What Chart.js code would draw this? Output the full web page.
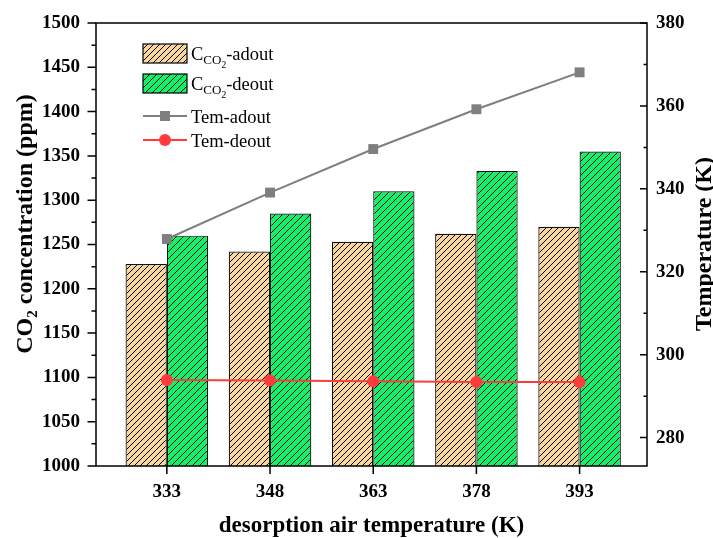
<!DOCTYPE html>
<html>
<head>
<meta charset="utf-8">
<script src="https://cdn.jsdelivr.net/npm/chart.js@4.4.1/dist/chart.umd.min.js"></script>
<style>
  html, body { margin: 0; padding: 0; background: #fff; }
  #wrap { width: 713px; height: 538px; position: relative; }
</style>
</head>
<body>
<div id="wrap"><canvas id="main-chart"></canvas></div>
<script>
// --- DATA ---
const temps = [333, 348, 363, 378, 393];
const co2Adout = [1228, 1242, 1253, 1262, 1270];
const co2Deout = [1260, 1285, 1310, 1333, 1355];
const temAdout = [327.9, 339.1, 349.6, 359.2, 368.1];
const temDeout = [293.9, 293.8, 293.6, 293.4, 293.4];
const leftTicks = [1000, 1050, 1100, 1150, 1200, 1250, 1300, 1350, 1400, 1450, 1500];
const rightTicks = [280, 300, 320, 340, 360, 380];

const SERIF = '"Liberation Serif", "Times New Roman", serif';
const orangeFill = '#F8D69C';
const greenFill = '#14F068';
const RIGHT_MIN = 273.15;

function hatch(color, n) {
  const c = document.createElement('canvas');
  c.width = n; c.height = n;
  const g = c.getContext('2d');
  g.fillStyle = color;
  g.fillRect(0, 0, n, n);
  g.strokeStyle = '#000';
  g.lineWidth = 1;
  g.beginPath();
  g.moveTo(-1, n + 1); g.lineTo(n + 1, -1);
  g.moveTo(-1, 1); g.lineTo(1, -1);
  g.moveTo(n - 1, n + 1); g.lineTo(n + 1, n - 1);
  g.stroke();
  return g.createPattern(c, 'repeat');
}

// draw a run of text pieces with sub/superscript offsets
function drawPieces(ctx, pieces, x, y, bold, align) {
  let total = 0;
  pieces.forEach(p => {
    ctx.font = (bold ? 'bold ' : '') + p.size + 'px ' + SERIF;
    p.w = ctx.measureText(p.text).width;
    total += p.w;
  });
  let cx = align === 'left' ? x : x - total / 2;
  ctx.textAlign = 'left';
  ctx.textBaseline = 'alphabetic';
  pieces.forEach(p => {
    ctx.font = (bold ? 'bold ' : '') + p.size + 'px ' + SERIF;
    ctx.fillText(p.text, cx, y + (p.dy || 0));
    cx += p.w;
  });
}

const framePlugin = {
  id: 'frame',
  afterDraw(chart) {
    const ctx = chart.ctx;
    const a = chart.chartArea;
    const sx = chart.scales.x, sy = chart.scales.y, sy1 = chart.scales.y1;
    ctx.save();
    ctx.strokeStyle = '#000';
    ctx.fillStyle = '#000';
    ctx.lineWidth = 1.5;
    ctx.strokeRect(a.left, a.top, a.right - a.left, a.bottom - a.top);

    ctx.beginPath();
    // x ticks (outward)
    temps.forEach(t => {
      const px = sx.getPixelForValue(t);
      ctx.moveTo(px, a.bottom); ctx.lineTo(px, a.bottom + 8);
    });
    // left ticks (outward) + minor
    leftTicks.forEach((v, i) => {
      const py = sy.getPixelForValue(v);
      ctx.moveTo(a.left, py); ctx.lineTo(a.left - 8.5, py);
      if (i < leftTicks.length - 1) {
        const pm = sy.getPixelForValue(v + 25);
        ctx.moveTo(a.left, pm); ctx.lineTo(a.left - 4.5, pm);
      }
    });
    // right ticks (inward) + minor
    rightTicks.forEach(v => {
      const py = sy1.getPixelForValue(v);
      ctx.moveTo(a.right, py); ctx.lineTo(a.right - 7, py);
      if (v - 10 > RIGHT_MIN) {
        const pm = sy1.getPixelForValue(v - 10);
        ctx.moveTo(a.right, pm); ctx.lineTo(a.right - 3.5, pm);
      }
    });
    ctx.stroke();

    // axis titles
    drawPieces(ctx, [{ text: 'desorption air temperature (K)', size: 23 }], (a.left + a.right) / 2, 532, true);

    ctx.save();
    ctx.translate(32, 224);
    ctx.rotate(-Math.PI / 2);
    drawPieces(ctx, [
      { text: 'CO', size: 24 },
      { text: '2', size: 15, dy: 5 },
      { text: ' concentration (ppm)', size: 24 }
    ], 0, 0, true);
    ctx.restore();

    ctx.save();
    ctx.translate(711, 244);
    ctx.rotate(-Math.PI / 2);
    drawPieces(ctx, [{ text: 'Temperature (K)', size: 24 }], 0, 0, true);
    ctx.restore();

    // legend
    const lx = 143, lw = 44, tx = 191;
    const boxes = [
      { fill: chart.data.datasets[0].backgroundColor, y: 44, name: '-adout' },
      { fill: chart.data.datasets[1].backgroundColor, y: 74, name: '-deout' }
    ];
    boxes.forEach(b => {
      ctx.fillStyle = b.fill;
      ctx.fillRect(lx, b.y, lw, 19);
      ctx.lineWidth = 1.2;
      ctx.strokeRect(lx, b.y, lw, 19);
      ctx.fillStyle = '#000';
      drawPieces(ctx, [
        { text: 'C', size: 18.5 },
        { text: 'CO', size: 13, dy: 4 },
        { text: '2', size: 9.5, dy: 7.5 },
        { text: b.name, size: 18.5 }
      ], tx, b.y + 16, false, 'left');
    });

    const lines = [
      { color: '#7F7F7F', y: 116, name: 'Tem-adout', shape: 'rect' },
      { color: '#FF3B3B', y: 140, name: 'Tem-deout', shape: 'circle' }
    ];
    lines.forEach(l => {
      ctx.strokeStyle = l.color;
      ctx.fillStyle = l.color;
      ctx.lineWidth = 2;
      ctx.beginPath();
      ctx.moveTo(lx, l.y); ctx.lineTo(lx + lw, l.y);
      ctx.stroke();
      if (l.shape === 'rect') {
        ctx.fillRect(lx + lw / 2 - 5, l.y - 5, 10, 10);
      } else {
        ctx.beginPath();
        ctx.arc(lx + lw / 2, l.y, 6, 0, Math.PI * 2);
        ctx.fill();
      }
      ctx.fillStyle = '#000';
      drawPieces(ctx, [{ text: l.name, size: 18.5 }], tx, l.y + 6.5, false, 'left');
    });
    ctx.restore();
  }
};

const tickFont = { family: SERIF, size: 19, weight: 'bold' };
const plain = v => String(v);

new Chart(document.getElementById('main-chart'), {
  type: 'bar',
  data: {
    datasets: [
      {
        label: 'CCO2-adout',
        data: temps.map((t, i) => ({ x: t, y: co2Adout[i] })),
        backgroundColor: hatch(orangeFill, 6),
        borderColor: '#111',
        borderWidth: 1.2,
        categoryPercentage: 0.8,
        barPercentage: 1.0,
        yAxisID: 'y',
        order: 2
      },
      {
        label: 'CCO2-deout',
        data: temps.map((t, i) => ({ x: t, y: co2Deout[i] })),
        backgroundColor: hatch(greenFill, 7),
        borderColor: '#111',
        borderWidth: 1.2,
        categoryPercentage: 0.8,
        barPercentage: 1.0,
        yAxisID: 'y',
        order: 2
      },
      {
        type: 'line',
        label: 'Tem-adout',
        data: temps.map((t, i) => ({ x: t, y: temAdout[i] })),
        borderColor: '#7F7F7F',
        backgroundColor: '#7F7F7F',
        borderWidth: 2,
        pointStyle: 'rect',
        pointRadius: 7,
        pointBorderWidth: 0,
        tension: 0,
        yAxisID: 'y1',
        order: 1
      },
      {
        type: 'line',
        label: 'Tem-deout',
        data: temps.map((t, i) => ({ x: t, y: temDeout[i] })),
        borderColor: '#FF3B3B',
        backgroundColor: '#FF3B3B',
        borderWidth: 2,
        pointStyle: 'circle',
        pointRadius: 6,
        pointBorderWidth: 0,
        tension: 0,
        yAxisID: 'y1',
        order: 0
      }
    ]
  },
  options: {
    responsive: true,
    maintainAspectRatio: false,
    animation: false,
    layout: { padding: { top: 23, left: 0, right: 0, bottom: 0 } },
    plugins: {
      legend: { display: false },
      tooltip: { enabled: false }
    },
    scales: {
      x: {
        type: 'linear',
        offset: false,
        min: 322.7,
        max: 402.8,
        grid: { display: false, offset: false },
        border: { display: false },
        ticks: { color: '#000', font: tickFont, padding: 7, maxRotation: 0, callback: plain },
        afterBuildTicks: s => { s.ticks = temps.map(v => ({ value: v })); },
        afterFit: s => { s.height = 72; }
      },
      y: {
        position: 'left',
        min: 1000,
        max: 1500,
        grid: { display: false },
        border: { display: false },
        ticks: { color: '#000', font: tickFont, padding: 8, callback: plain },
        afterBuildTicks: s => { s.ticks = leftTicks.map(v => ({ value: v })); },
        afterFit: s => { s.width = 96; }
      },
      y1: {
        position: 'right',
        min: RIGHT_MIN,
        max: 380,
        grid: { display: false },
        border: { display: false },
        ticks: { color: '#000', font: tickFont, padding: 1, callback: plain },
        afterBuildTicks: s => { s.ticks = rightTicks.map(v => ({ value: v })); },
        afterFit: s => { s.width = 66; }
      }
    }
  },
  plugins: [framePlugin]
});
</script>
</body>
</html>
